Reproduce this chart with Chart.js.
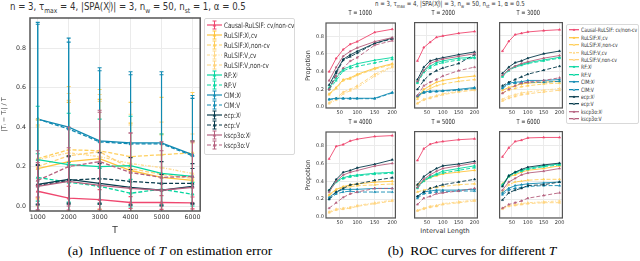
<!DOCTYPE html>
<html>
<head>
<meta charset="utf-8">
<script src="https://cdn.jsdelivr.net/npm/chart.js@4.4.1/dist/chart.umd.min.js"></script>
<style>
  body { margin: 0; width: 640px; height: 261px; position: relative; overflow: hidden; background: #fff; font-family: 'DejaVu Sans', sans-serif; color: #222; }
  .box { position: absolute; }
  .txt { position: absolute; white-space: nowrap; text-align: center; }
  .legend { position: absolute; background: #fff; border: 1px solid #d9d9d9; border-radius: 2px; box-sizing: border-box; }
  .item { position: absolute; left: 2px; display: flex; align-items: center; white-space: nowrap; }
  .item span { display: inline-block; transform-origin: left center; color: #333; }
  .cap { position: absolute; font-family: 'Liberation Serif', serif; font-size: 13.5px; white-space: nowrap; color: #000; text-align: center; }
  sub, sup { font-size: 70%; line-height: 0; }
  .sq { display: inline-block; transform-origin: center; }
  .ttl { position: absolute; white-space: nowrap; color: #333; transform-origin: left top; }
</style>
</head>
<body>

<div class="ttl" style="left:10px;top:1px;font-size:10px;transform:scaleX(0.86);">n = 3, τ<sub>max</sub> = 4, |SPA(X<sup>j</sup><sub style="margin-left:-3px">i</sub>)| = 3, n<sub>w</sub> = 50, n<sub>st</sub> = 1, α = 0.5</div>
<div class="ttl" style="left:375px;top:0px;font-size:7px;transform:scaleX(0.78);">n = 3, τ<sub>max</sub> = 4, |SPA(X<sup>j</sup><sub style="margin-left:-2px">i</sub>)| = 3, n<sub>w</sub> = 50, n<sub>st</sub> = 1, α = 0.5</div>

<div class="box" id="leftBox" style="left:0;top:0;width:205px;height:240px;"><canvas id="chartErr"></canvas></div>
<div class="legend" id="legendA" style="left:204px;top:18px;width:91px;height:137px;"></div>
<div class="legend" id="legendB" style="left:566px;top:24px;width:73px;height:100px;"></div>

<div class="txt" style="left:345px;width:200px;top:227px;font-size:6.5px;color:#333;">Interval Length</div>
<div class="cap" style="left:20px;width:300px;top:243px;">(a)&nbsp; Influence of <i>T</i> on estimation error</div>
<div class="cap" style="left:322px;width:300px;top:243px;">(b)&nbsp; ROC curves for different <i>T</i></div>

<script>
// ---- labels / categories
const seriesNames = ["Causal-RuLSIF: cv/non-cv", "RuLSIF:Xʲ,cv", "RuLSIF:Xʲ,non-cv", "RuLSIF:V,cv", "RuLSIF:V,non-cv",
  "RF:Xʲ", "RF:V", "CIM:Xʲ", "CIM:V", "ecp:Xʲ", "ecp:V", "kscp3o:Xʲ", "kscp3o:V"];
const lengthT = [1000, 2000, 3000, 4000, 5000, 6000];
const intervalLen = [20, 40, 60, 80, 100, 150, 200];
const errTicksX = [1000, 2000, 3000, 4000, 5000, 6000];
const errTicksY = [0.0, 0.2, 0.4, 0.6, 0.8];
const rocTicksX = [50, 100, 150, 200];
const rocTicksY = [0.0, 0.2, 0.4, 0.6, 0.8];
const panelTitles = ["T = 1000", "T = 2000", "T = 3000", "T = 4000", "T = 5000", "T = 6000"];

// ---- (a) mean |T_hat - T| / T and its spread, one row per series
const errMean = [
  [0.075, 0.040, 0.033, 0.018, 0.018, 0.016],
  [0.190, 0.225, 0.240, 0.180, 0.145, 0.130],
  [0.240, 0.285, 0.280, 0.250, 0.260, 0.270],
  [0.235, 0.270, 0.250, 0.215, 0.195, 0.165],
  [0.200, 0.255, 0.275, 0.190, 0.160, 0.140],
  [0.235, 0.210, 0.200, 0.205, 0.165, 0.150],
  [0.145, 0.120, 0.100, 0.065, 0.085, 0.060],
  [0.440, 0.400, 0.330, 0.320, 0.320, 0.260],
  [0.440, 0.390, 0.325, 0.315, 0.315, 0.255],
  [0.110, 0.135, 0.115, 0.095, 0.080, 0.100],
  [0.105, 0.130, 0.140, 0.125, 0.115, 0.115],
  [0.100, 0.125, 0.105, 0.090, 0.080, 0.095],
  [0.130, 0.200, 0.225, 0.170, 0.145, 0.150]
];
const errSd = [
  [0.030, 0.060, 0.050, 0.030, 0.035, 0.030],
  [0.220, 0.300, 0.300, 0.240, 0.220, 0.200],
  [0.200, 0.320, 0.310, 0.275, 0.290, 0.305],
  [0.200, 0.300, 0.280, 0.250, 0.230, 0.200],
  [0.200, 0.280, 0.290, 0.220, 0.200, 0.180],
  [0.270, 0.260, 0.240, 0.250, 0.200, 0.180],
  [0.120, 0.100, 0.090, 0.070, 0.080, 0.060],
  [0.490, 0.450, 0.370, 0.360, 0.360, 0.300],
  [0.480, 0.440, 0.360, 0.350, 0.350, 0.290],
  [0.100, 0.120, 0.100, 0.090, 0.080, 0.090],
  [0.100, 0.120, 0.130, 0.120, 0.110, 0.100],
  [0.120, 0.170, 0.370, 0.280, 0.200, 0.230],
  [0.150, 0.200, 0.260, 0.200, 0.180, 0.180]
];

// ---- (b) proportion vs interval length, one row per series
const roc1000 = [
  [0.40, 0.55, 0.65, 0.71, 0.74, 0.845, 0.88],
  [0.15, 0.22, 0.31, 0.33, 0.37, 0.44, 0.49],
  [0.14, 0.21, 0.30, 0.32, 0.36, 0.43, 0.48],
  [0.04, 0.08, 0.15, 0.185, 0.22, 0.35, 0.45],
  [0.05, 0.10, 0.17, 0.20, 0.24, 0.37, 0.46],
  [0.22, 0.33, 0.43, 0.46, 0.49, 0.53, 0.56],
  [0.20, 0.30, 0.41, 0.44, 0.46, 0.50, 0.54],
  [0.09, 0.10, 0.10, 0.10, 0.10, 0.10, 0.167],
  [0.085, 0.095, 0.095, 0.095, 0.095, 0.095, 0.16],
  [0.25, 0.40, 0.54, 0.59, 0.63, 0.72, 0.78],
  [0.20, 0.38, 0.53, 0.57, 0.61, 0.72, 0.77],
  [0.30, 0.45, 0.575, 0.63, 0.67, 0.74, 0.785],
  [0.20, 0.35, 0.44, 0.52, 0.56, 0.70, 0.75]
];
const roc2000 = [
  [0.52, 0.67, 0.73, 0.785, 0.80, 0.83, 0.85],
  [0.11, 0.20, 0.24, 0.28, 0.30, 0.33, 0.35],
  [0.09, 0.17, 0.21, 0.24, 0.26, 0.29, 0.31],
  [0.045, 0.09, 0.11, 0.13, 0.15, 0.18, 0.20],
  [0.04, 0.08, 0.10, 0.12, 0.14, 0.17, 0.19],
  [0.28, 0.41, 0.46, 0.50, 0.52, 0.55, 0.56],
  [0.27, 0.39, 0.44, 0.48, 0.50, 0.53, 0.55],
  [0.13, 0.17, 0.18, 0.18, 0.185, 0.20, 0.22],
  [0.12, 0.16, 0.17, 0.175, 0.18, 0.19, 0.21],
  [0.31, 0.45, 0.52, 0.54, 0.555, 0.59, 0.62],
  [0.20, 0.30, 0.37, 0.41, 0.44, 0.49, 0.59],
  [0.29, 0.41, 0.49, 0.52, 0.54, 0.57, 0.60],
  [0.13, 0.24, 0.28, 0.31, 0.35, 0.41, 0.45]
];
const roc3000 = [
  [0.63, 0.74, 0.815, 0.83, 0.845, 0.86, 0.87],
  [0.19, 0.22, 0.24, 0.26, 0.27, 0.28, 0.29],
  [0.16, 0.19, 0.21, 0.23, 0.24, 0.26, 0.27],
  [0.09, 0.12, 0.14, 0.16, 0.17, 0.19, 0.21],
  [0.07, 0.10, 0.12, 0.14, 0.15, 0.17, 0.19],
  [0.35, 0.42, 0.46, 0.48, 0.50, 0.53, 0.56],
  [0.34, 0.41, 0.45, 0.47, 0.49, 0.52, 0.55],
  [0.22, 0.27, 0.28, 0.285, 0.30, 0.30, 0.31],
  [0.21, 0.26, 0.27, 0.27, 0.28, 0.28, 0.29],
  [0.38, 0.45, 0.50, 0.52, 0.55, 0.60, 0.63],
  [0.24, 0.28, 0.31, 0.34, 0.37, 0.415, 0.46],
  [0.36, 0.42, 0.46, 0.49, 0.51, 0.55, 0.58],
  [0.155, 0.20, 0.24, 0.27, 0.28, 0.30, 0.33]
];
const roc4000 = [
  [0.65, 0.79, 0.81, 0.85, 0.87, 0.90, 0.91],
  [0.25, 0.31, 0.34, 0.36, 0.37, 0.39, 0.40],
  [0.24, 0.30, 0.33, 0.34, 0.35, 0.36, 0.37],
  [0.06, 0.09, 0.10, 0.11, 0.13, 0.16, 0.19],
  [0.05, 0.08, 0.09, 0.10, 0.12, 0.15, 0.18],
  [0.30, 0.40, 0.44, 0.46, 0.47, 0.49, 0.50],
  [0.29, 0.39, 0.43, 0.45, 0.46, 0.48, 0.49],
  [0.22, 0.28, 0.31, 0.31, 0.31, 0.32, 0.32],
  [0.20, 0.26, 0.28, 0.29, 0.28, 0.28, 0.28],
  [0.30, 0.42, 0.50, 0.52, 0.55, 0.59, 0.64],
  [0.20, 0.28, 0.32, 0.36, 0.37, 0.41, 0.44],
  [0.28, 0.40, 0.47, 0.50, 0.52, 0.57, 0.60],
  [0.10, 0.16, 0.22, 0.26, 0.28, 0.32, 0.32]
];
const roc5000 = [
  [0.63, 0.76, 0.81, 0.83, 0.84, 0.86, 0.87],
  [0.36, 0.40, 0.44, 0.46, 0.48, 0.50, 0.52],
  [0.28, 0.30, 0.32, 0.33, 0.34, 0.36, 0.37],
  [0.075, 0.10, 0.12, 0.13, 0.15, 0.17, 0.19],
  [0.07, 0.09, 0.11, 0.12, 0.14, 0.16, 0.18],
  [0.33, 0.41, 0.45, 0.48, 0.51, 0.54, 0.57],
  [0.32, 0.40, 0.44, 0.47, 0.49, 0.52, 0.55],
  [0.23, 0.28, 0.29, 0.30, 0.30, 0.30, 0.31],
  [0.21, 0.26, 0.27, 0.28, 0.28, 0.29, 0.29],
  [0.36, 0.45, 0.50, 0.54, 0.57, 0.59, 0.62],
  [0.23, 0.28, 0.32, 0.34, 0.36, 0.39, 0.42],
  [0.33, 0.42, 0.47, 0.51, 0.54, 0.57, 0.60],
  [0.14, 0.21, 0.23, 0.26, 0.27, 0.29, 0.32]
];
const roc6000 = [
  [0.67, 0.77, 0.84, 0.855, 0.88, 0.885, 0.885],
  [0.37, 0.45, 0.47, 0.50, 0.52, 0.54, 0.57],
  [0.28, 0.36, 0.39, 0.40, 0.41, 0.42, 0.42],
  [0.10, 0.13, 0.14, 0.15, 0.16, 0.17, 0.18],
  [0.09, 0.12, 0.13, 0.14, 0.15, 0.16, 0.16],
  [0.36, 0.46, 0.50, 0.52, 0.54, 0.57, 0.59],
  [0.35, 0.45, 0.49, 0.51, 0.53, 0.56, 0.58],
  [0.27, 0.32, 0.35, 0.36, 0.37, 0.38, 0.39],
  [0.25, 0.30, 0.32, 0.33, 0.34, 0.35, 0.35],
  [0.34, 0.46, 0.50, 0.53, 0.555, 0.58, 0.60],
  [0.19, 0.27, 0.30, 0.32, 0.35, 0.36, 0.39],
  [0.30, 0.39, 0.43, 0.47, 0.49, 0.51, 0.54],
  [0.10, 0.14, 0.16, 0.18, 0.21, 0.24, 0.27]
];
const rocSets = [roc1000, roc2000, roc3000, roc4000, roc5000, roc6000];

// ---- styles
const seriesColors = ["#ef476f", "#ffc43d", "#ffcf5c", "#ffd98a", "#ffd27a",
  "#06d6a0", "#06d6a0", "#118ab2", "#118ab2", "#073b4c", "#073b4c", "#b5607e", "#b5607e"];
const seriesDash = [[], [], [4, 2], [3, 1.5, 1, 1.5], [4, 2], [], [4, 2], [], [4, 2], [], [4, 2], [], [4, 2]];

Chart.defaults.font.family = "'DejaVu Sans', sans-serif";
Chart.defaults.color = "#333";
Chart.defaults.animation = false;

const frame = {
  id: "frame",
  afterDraw(chart) {
    const a = chart.chartArea, ctx = chart.ctx;
    ctx.save();
    ctx.strokeStyle = "#555";
    ctx.lineWidth = chart.options.frameWidth || 1.2;
    ctx.strokeRect(a.left, a.top, a.right - a.left, a.bottom - a.top);
    ctx.restore();
  }
};

const errorBars = {
  id: "errorBars",
  afterDatasetsDraw(chart) {
    const ctx = chart.ctx, a = chart.chartArea, x = chart.scales.x, y = chart.scales.y;
    ctx.save();
    ctx.beginPath();
    ctx.rect(a.left, a.top, a.right - a.left, a.bottom - a.top);
    ctx.clip();
    chart.data.datasets.forEach(ds => {
      if (!ds.sd) return;
      ctx.strokeStyle = ds.borderColor;
      ctx.lineWidth = 1.1;
      ctx.setLineDash([]);
      ds.data.forEach((p, k) => {
        const px = x.getPixelForValue(p.x);
        const lo = y.getPixelForValue(p.y - ds.sd[k]);
        const hi = y.getPixelForValue(p.y + ds.sd[k]);
        ctx.beginPath();
        ctx.moveTo(px, lo); ctx.lineTo(px, hi);
        ctx.moveTo(px - 2, lo); ctx.lineTo(px + 2, lo);
        ctx.moveTo(px - 2, hi); ctx.lineTo(px + 2, hi);
        ctx.stroke();
      });
    });
    ctx.restore();
  }
};

function fixedTicks(values) {
  return scale => { scale.ticks = values.map(v => ({ value: v })); };
}

// ---- (a) estimation error
new Chart(document.getElementById("chartErr"), {
  type: "line",
  data: {
    datasets: seriesNames.map((name, i) => ({
      label: name,
      data: lengthT.map((t, k) => ({ x: t, y: errMean[i][k] })),
      sd: errSd[i],
      borderColor: seriesColors[i],
      backgroundColor: seriesColors[i],
      borderDash: seriesDash[i],
      borderWidth: 1.3,
      pointStyle: "triangle",
      pointRadius: 1.8,
      pointBorderWidth: 0.8,
      order: seriesNames.length - i
    }))
  },
  options: {
    responsive: true,
    maintainAspectRatio: false,
    frameWidth: 1.5,
    layout: { padding: { top: 18, right: 3, left: 0, bottom: 0 } },
    plugins: { legend: { display: false }, tooltip: { enabled: false } },
    scales: {
      x: {
        type: "linear", min: 750, max: 6250,
        afterBuildTicks: fixedTicks(errTicksX),
        afterFit: s => { s.height = 29; },
        ticks: { font: { size: 6.3 }, padding: 3, maxRotation: 0, callback: v => String(v) },
        grid: { color: "#ebebeb", drawTicks: false },
        border: { display: false },
        title: { display: true, text: "T", font: { size: 9 }, padding: { top: 1 } }
      },
      y: {
        min: -0.025, max: 0.952,
        afterBuildTicks: fixedTicks(errTicksY),
        afterFit: s => { s.width = 30; },
        ticks: { font: { size: 6.3 }, padding: 4, callback: v => v.toFixed(1) },
        grid: { color: "#ebebeb", drawTicks: false },
        border: { display: false },
        title: { display: true, text: "|T̂ᵢ − Tᵢ| / T", font: { size: 6.5 }, padding: 0 }
      }
    }
  },
  plugins: [errorBars, frame]
});

// ---- (b) ROC panels
const colLeft = [326, 410, 495], colWidth = [72, 70, 70];
const rowTop = [19, 128], rowHeight = [89, 90];

rocSets.forEach((rows, p) => {
  const c = p % 3, r = Math.floor(p / 3);
  const yW = c === 0 ? 22 : 0;
  const box = document.createElement("div");
  box.className = "box";
  box.style.left = (colLeft[c] - yW) + "px";
  box.style.top = (rowTop[r] - 1) + "px";
  box.style.width = (yW + colWidth[c] + 2) + "px";
  box.style.height = (rowHeight[r] + 1 + 10) + "px";
  const cv = document.createElement("canvas");
  box.appendChild(cv);
  document.body.appendChild(box);

  const t = document.createElement("div");
  t.className = "txt";
  t.style.left = (colLeft[c] + colWidth[c] / 2 - 42) + "px";
  t.style.width = "80px";
  t.style.top = (rowTop[r] - 10) + "px";
  t.style.fontSize = "7px";
  t.innerHTML = '<span class="sq" style="transform:scaleX(0.72)">' + panelTitles[p] + "</span>";
  document.body.appendChild(t);

  new Chart(cv, {
    type: "line",
    data: {
      datasets: seriesNames.map((name, i) => ({
        label: name,
        data: intervalLen.map((L, k) => ({ x: L, y: rows[i][k] })),
        borderColor: seriesColors[i],
        backgroundColor: seriesColors[i],
        borderDash: seriesDash[i],
        borderWidth: 0.9,
        pointStyle: "triangle",
        pointRadius: 1.2,
        pointBorderWidth: 0.6,
        order: seriesNames.length - i
      }))
    },
    options: {
      responsive: true,
      maintainAspectRatio: false,
      frameWidth: 1.2,
      layout: { padding: { top: 1, right: 2, left: 0, bottom: 0 } },
      plugins: { legend: { display: false }, tooltip: { enabled: false } },
      scales: {
        x: {
          type: "linear", min: 11, max: 209,
          afterBuildTicks: fixedTicks(rocTicksX),
          afterFit: s => { s.height = 10; },
          ticks: { font: { size: 5 }, padding: 2, maxRotation: 0 },
          grid: { color: "#ebebeb", drawTicks: false },
          border: { display: false }
        },
        y: {
          min: -0.01, max: 0.95,
          afterBuildTicks: fixedTicks(rocTicksY),
          afterFit: s => { s.width = yW; },
          ticks: { display: c === 0, font: { size: 5 }, padding: 2, callback: v => v.toFixed(1) },
          grid: { color: "#ebebeb", drawTicks: false },
          border: { display: false },
          title: { display: c === 0, text: "Propotion", font: { size: 6.5 }, padding: 0 }
        }
      }
    },
    plugins: [frame]
  });
});

// ---- legends
function buildLegend(el, rowH, sampleW, fontSize, squeeze, firstTop, withBars) {
  seriesNames.forEach((name, i) => {
    const item = document.createElement("div");
    item.className = "item";
    item.style.top = (firstTop + i * rowH) + "px";
    item.style.height = rowH + "px";
    const mid = rowH / 2, cx = sampleW / 2;
    const dash = seriesDash[i].length ? ` stroke-dasharray="${seriesDash[i].join(" ")}"` : "";
    const bar = withBars
      ? `<line x1="${cx}" y1="1" x2="${cx}" y2="${rowH - 1}" stroke="${seriesColors[i]}" stroke-width="1"/>` +
        `<line x1="${cx - 2}" y1="1" x2="${cx + 2}" y2="1" stroke="${seriesColors[i]}" stroke-width="1"/>` +
        `<line x1="${cx - 2}" y1="${rowH - 1}" x2="${cx + 2}" y2="${rowH - 1}" stroke="${seriesColors[i]}" stroke-width="1"/>`
      : "";
    const m = withBars ? 1.8 : 1.3;
    item.innerHTML =
      `<svg width="${sampleW}" height="${rowH}" style="flex:none">` +
      `<line x1="0" y1="${mid}" x2="${sampleW}" y2="${mid}" stroke="${seriesColors[i]}" stroke-width="1.2"${dash}/>` + bar +
      `<polygon points="${cx},${mid - m} ${cx - m},${mid + m * 0.8} ${cx + m},${mid + m * 0.8}" fill="${seriesColors[i]}"/></svg>` +
      `<span style="font-size:${fontSize}px;margin-left:2px;transform:scaleX(${squeeze})">${name}</span>`;
    el.appendChild(item);
  });
}
buildLegend(document.getElementById("legendA"), 10, 15, 7.5, 0.75, 1, true);
buildLegend(document.getElementById("legendB"), 7.4, 10, 6, 0.75, 1.3, false);
</script>
</body>
</html>
